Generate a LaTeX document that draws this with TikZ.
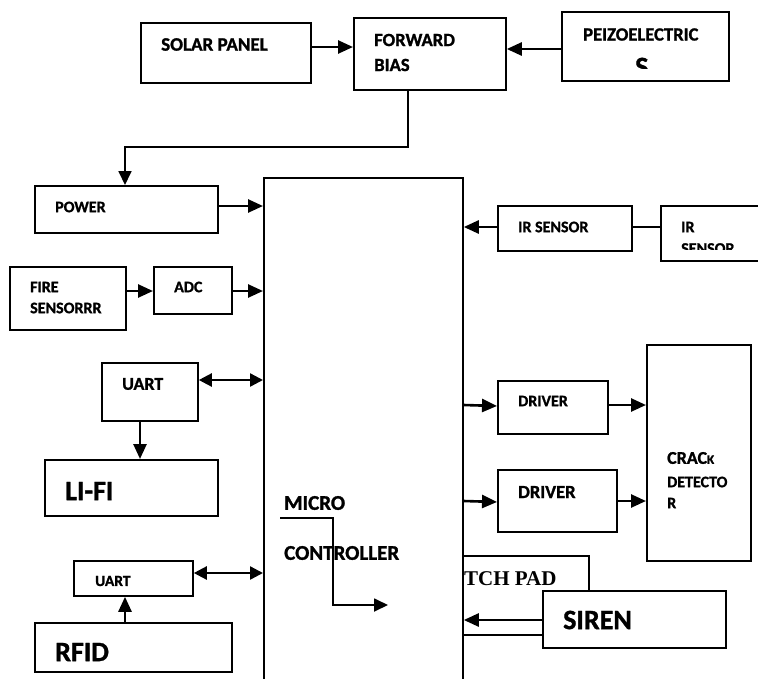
\documentclass[tikz,border=0pt]{standalone}
\usepackage{fontspec}
\setmainfont{Carlito}[BoldFont={Carlito Bold}, BoldFeatures={FakeBold=1.2}]
\newfontfamily\serifbold{Liberation Serif Bold}
\usetikzlibrary{arrows.meta}
\tikzset{
  box/.style={draw, line width=1.8pt, inner sep=0pt, anchor=north west, fill=white},
  txt/.style={anchor=west, inner sep=0pt, font=\bfseries\fontsize{16}{19}\selectfont},
  toptxt/.style={txt, font=\bfseries\fontsize{18.6}{22}\selectfont},
  bigtxt/.style={anchor=west, inner sep=0pt, font=\bfseries\fontsize{28}{32}\selectfont},
  arr/.style={line width=2.6pt, -{Triangle[length=15pt,width=13pt]}},
  darr/.style={line width=2.4pt, {Triangle[length=13pt,width=13pt]}-{Triangle[length=13pt,width=13pt]}},
  thinarr/.style={line width=1.8pt, -{Triangle[length=14pt,width=13pt]}},
  wire/.style={line width=1.8pt}
}
\begin{document}
\begin{tikzpicture}[x=1pt,y=-1pt]
\useasboundingbox (0,0) rectangle (758,678);
% boxes
\node[box, minimum width=170pt, minimum height=60pt] (solar) at (140,22) {};
\node[box, minimum width=152pt, minimum height=72pt] (fwd) at (353,17) {};
\node[box, minimum width=167pt, minimum height=69pt] (piezo) at (561,11) {};
\node[box, minimum width=183pt, minimum height=47pt] (power) at (34,185) {};
\node[box, minimum width=199pt, minimum height=515pt] (mc) at (263,177) {};
\node[box, minimum width=116pt, minimum height=63pt] (fire) at (9,266) {};
\node[box, minimum width=78pt, minimum height=47pt] (adc) at (153,266) {};
\node[box, minimum width=96pt, minimum height=58pt] (uart1) at (101,362) {};
\node[box, minimum width=173pt, minimum height=56pt] (lifi) at (44,459) {};
\node[box, minimum width=119pt, minimum height=35pt] (uart2) at (73,560) {};
\node[box, minimum width=197pt, minimum height=49pt] (rfid) at (34,622) {};
\node[box, minimum width=134pt, minimum height=45pt] (ir1) at (497,205) {};
\node[box, minimum width=115pt, minimum height=55pt] (ir2) at (660,205) {};
\node[box, minimum width=104pt, minimum height=216pt] (crack) at (646,344) {};
\node[box, minimum width=110pt, minimum height=53pt] (drv1) at (497,380) {};
\node[box, minimum width=119pt, minimum height=62pt] (drv2) at (497,469) {};
\node[box, minimum width=126pt, minimum height=79pt] (tch) at (462,555) {};
\node[box, minimum width=183pt, minimum height=57pt] (siren) at (542,590) {};
% texts
\node[toptxt, font=\bfseries\fontsize{19}{22}\selectfont] (solart) at (161,44.5) {SOLAR PANEL};
\node[toptxt] (fwdt1) at (374,40) {FORWARD};
\node[toptxt] (fwdt2) at (374,65) {BIAS};
\node[toptxt] (piezot) at (583,34.5) {PEIZOELECTRIC};
\begin{scope}
\clip (562,12) rectangle (727,68);
\node[bigtxt] (piezos) at (635,67) {S};
\end{scope}
\node[txt] (powert) at (55,207) {POWER};
\node[txt] (firet1) at (30,287) {FIRE};
\node[txt] (firet2) at (30,308) {SENSORRR};
\node[txt] (adct) at (174,287) {ADC};
\node[txt, font=\bfseries\fontsize{18}{21}\selectfont] (uart1t) at (122,384) {UART};
\node[bigtxt] (lifit) at (65,491) {LI-FI};
\node[txt, font=\bfseries\fontsize{15.5}{18}\selectfont] (uart2t) at (95,581) {UART};
\node[bigtxt] (rfidt) at (55,652) {RFID};
\node[txt] (ir1t) at (518,227) {IR SENSOR};
\node[txt] (ir2t1) at (681,227) {IR};
\begin{scope}
\clip (661,206) rectangle (758,249.5);
\node[txt] (ir2t2) at (681,248.5) {SENSOR};
\end{scope}
\node[txt] (drv1t) at (518,401) {DRIVER};
\node[txt, font=\bfseries\fontsize{18.5}{21}\selectfont] (drv2t) at (518,492) {DRIVER};
\node[txt, font=\bfseries\fontsize{18}{21}\selectfont] (crackt1) at (667,458) {CRAC{\fontsize{13}{15}\selectfont K}};
\node[txt] (crackt2) at (667,482) {DETECTO};
\node[txt] (crackt3) at (667,503) {R};
\node[txt, font=\bfseries\fontsize{21}{24}\selectfont] (mct1) at (284,503) {MICRO};
\node[txt, font=\bfseries\fontsize{21}{24}\selectfont] (mct2) at (284,553) {CONTROLLER};
\node[txt, font=\serifbold\fontsize{21}{24}\selectfont] (tcht) at (464,579) {TCH PAD};
\node[bigtxt] (sirent) at (563,620) {SIREN};
% connectors
\draw[arr] (solar.east |- 0,47) -- (fwd.west |- 0,47);
\draw[arr] (piezo.west |- 0,49) -- (fwd.east |- 0,49);
\draw[thinarr] (fwd.south -| 408,0) -- (408,147) -- (125,147) -- (power.north -| 125,0);
\draw[arr] (power.east |- 0,206) -- (mc.west |- 0,206);
\draw[arr] (fire.east |- 0,291) -- (adc.west |- 0,291);
\draw[arr] (adc.east |- 0,291) -- (mc.west |- 0,291);
\draw[darr] (uart1.east |- 0,380) -- (mc.west |- 0,380);
\draw[arr] (uart1.south -| 140,0) -- (lifi.north -| 140,0);
\draw[darr] (uart2.east |- 0,573) -- (mc.west |- 0,573);
\draw[arr] (rfid.north -| 125,0) -- (uart2.south -| 125,0);
\draw[arr] (ir1.west |- 0,227) -- (mc.east |- 0,227);
\draw[wire] (ir1.east |- 0,227) -- (ir2.west |- 0,227);
\draw[arr] (mc.east |- 0,405) -- (drv1.west |- 0,406);
\draw[arr] (drv1.east |- 0,405) -- (crack.west |- 0,405);
\draw[arr] (mc.east |- 0,501) -- (drv2.west |- 0,502);
\draw[arr] (drv2.east |- 0,501) -- (crack.west |- 0,501);
\draw[arr] (siren.west |- 0,620) -- (mc.east |- 0,620);
\coordinate (mcin) at (280,518);
\coordinate (mcout) at (388,605);
\draw[thinarr] (mcin) -- (333,518) -- (333,605) -- (mcout);
\end{tikzpicture}
\end{document}
